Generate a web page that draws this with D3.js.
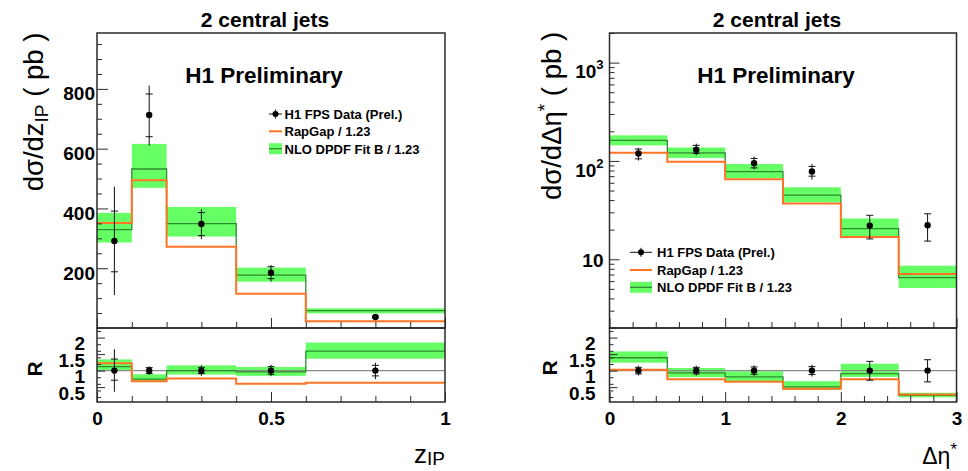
<!DOCTYPE html>
<html>
<head>
<meta charset="utf-8">
<script src="https://cdn.jsdelivr.net/npm/d3@7"></script>
<style>
  body { margin: 0; background: #fff; }
  svg { display: block; font-family: "Liberation Sans", Arial, Helvetica, sans-serif; }
</style>
</head>
<body>
<svg id="chart" width="968" height="471"></svg>
<script>
// ---------------- z_IP distribution ----------------
const zEdges   = [0, 0.1, 0.2, 0.4, 0.6, 1.0];
const zCentres = [0.05, 0.15, 0.3, 0.5, 0.8];
const zData    = [291, 713, 348, 185, 37];
const zStatLo  = [188, 640, 309, 165, 34];
const zStatHi  = [391, 783, 386, 205, 40];
const zTotLo   = [110, 610, 297, 155, 33];
const zTotHi   = [473, 811, 397, 211, 41];
const zRapgap  = [351, 494, 272, 115, 23];
const zNlo     = [329, 532, 349, 177, 58];
const zNloLo   = [286, 469, 306, 155, 49];
const zNloHi   = [385, 616, 405, 202, 66];

// ratio to data, z_IP
const zRData    = [1, 1, 1, 1, 1];
const zRStatLo  = [0.71, 0.91, 0.91, 0.89, 0.84];
const zRStatHi  = [1.35, 1.09, 1.10, 1.12, 1.16];
const zRTotLo   = [0.36, 0.87, 0.84, 0.83, 0.74];
const zRTotHi   = [1.65, 1.13, 1.16, 1.18, 1.24];
const zRRapgap  = [1.22, 0.68, 0.76, 0.60, 0.63];
const zRNlo     = [1.12, 0.74, 1.00, 0.96, 1.59];
const zRNloLo   = [1.00, 0.67, 0.88, 0.84, 1.36];
const zRNloHi   = [1.34, 0.89, 1.16, 1.11, 1.85];

// ---------------- Delta eta* distribution ----------------
const eEdges   = [0, 0.5, 1, 1.5, 2, 2.5, 3];
const eCentres = [0.25, 0.75, 1.25, 1.75, 2.25, 2.75];
const eData    = [119, 130, 95, 78, 22, 22.2];
const eStatLo  = [105, 119, 85, 70, 16.1, 15.3];
const eStatHi  = [132, 144, 106, 88, 28, 29];
const eTotLo   = [101, 114, 82, 64.5, 16.1, 15.3];
const eTotHi   = [136, 150, 111, 93, 28, 29];
const eRapgap  = [121, 98, 65, 37, 16.8, 7.1];
const eNlo     = [162, 121, 78, 45, 20.5, 6.5];
const eNloLo   = [144, 107, 67, 38, 16.6, 5.1];
const eNloHi   = [182, 137, 93, 54, 26, 8.6];

// ratio to data, Delta eta*
const eRData    = [1, 1, 1, 1, 1, 1];
const eRStatLo  = [0.90, 0.90, 0.89, 0.88, 0.71, 0.66];
const eRStatHi  = [1.10, 1.10, 1.11, 1.12, 1.28, 1.33];
const eRTotLo   = [0.85, 0.85, 0.84, 0.82, 0.71, 0.66];
const eRTotHi   = [1.15, 1.15, 1.16, 1.18, 1.28, 1.33];
const eRRapgap  = [1.03, 0.74, 0.66, 0.45, 0.74, 0.28];
const eRNlo     = [1.39, 0.93, 0.81, 0.51, 0.91, 0.25];
const eRNloLo   = [1.24, 0.80, 0.66, 0.42, 0.81, 0.19];
const eRNloHi   = [1.58, 1.08, 0.98, 0.68, 1.21, 0.33];

// axis ticks
const zTicksMajor = [0, 0.5, 1];
const zTicksMinor = [0.1, 0.2, 0.3, 0.4, 0.6, 0.7, 0.8, 0.9];
const eTicksMajor = [0, 1, 2, 3];
const eTicksMinor = [0.2, 0.4, 0.6, 0.8, 1.2, 1.4, 1.6, 1.8, 2.2, 2.4, 2.6, 2.8];
const linTicksMajor = [200, 400, 600, 800];
const linTicksMinor = [50, 100, 150, 250, 300, 350, 450, 500, 550, 650, 700, 750, 850, 900, 950];
const logTicksMajor = [10, 100, 1000];
const logTicksMinor = [2, 3, 4, 5, 6, 7, 8, 9, 20, 30, 40, 50, 60, 70, 80, 90,
                       200, 300, 400, 500, 600, 700, 800, 900, 2000];
const rTicksMajor = [0.5, 1, 1.5, 2];
const rTicksMinor = [0.2, 0.4, 0.6, 0.8, 1.2, 1.4, 1.6, 1.8, 2.2];

const titleText   = '2 central jets';
const stampText   = 'H1 Preliminary';
const legendLabels = ['H1 FPS Data (Prel.)', 'RapGap / 1.23', 'NLO DPDF Fit B / 1.23'];

// ---------------- styling ----------------
const GREEN_BAND = '#66ff66';
const GREEN_LINE = '#2f8a2f';
const ORANGE     = '#ff7424';
const FRAME      = '#2a2a2a';
const TOP = 33, SPLIT = 328, BOTTOM = 402;

const svg = d3.select('#chart');

function stepPath(x, y, edges, vals) {
  const pts = edges.map((e, i) => [e, vals[Math.min(i, vals.length - 1)]]);
  return d3.line().x(d => x(d[0])).y(d => y(d[1])).curve(d3.curveStepAfter)(pts);
}

let clipId = 0;
function clipped(g, x0, y0, w, h) {
  const id = 'clip' + (clipId++);
  svg.append('defs').append('clipPath').attr('id', id)
    .append('rect').attr('x', x0).attr('y', y0).attr('width', w).attr('height', h);
  return g.append('g').attr('clip-path', `url(#${id})`);
}

function drawModels(g, x, y, edges, nlo, lo, hi, rap, refLine) {
  g.append('g').selectAll('rect').data(nlo).join('rect')
    .attr('x', (d, i) => x(edges[i]))
    .attr('width', (d, i) => x(edges[i + 1]) - x(edges[i]))
    .attr('y', (d, i) => y(hi[i]))
    .attr('height', (d, i) => y(lo[i]) - y(hi[i]))
    .attr('fill', GREEN_BAND);
  if (refLine) {
    g.append('line')
      .attr('x1', x(edges[0])).attr('x2', x(edges[edges.length - 1]))
      .attr('y1', y(1)).attr('y2', y(1))
      .attr('stroke', '#8a8a8a').attr('stroke-width', 1.2);
  }
  g.append('path').attr('d', stepPath(x, y, edges, nlo))
    .attr('fill', 'none').attr('stroke', GREEN_LINE).attr('stroke-width', 1.3);
  g.append('path').attr('d', stepPath(x, y, edges, rap))
    .attr('fill', 'none').attr('stroke', ORANGE).attr('stroke-width', 2);
}

function drawData(g, x, y, centres, vals, sLo, sHi, tLo, tHi) {
  const pts = g.append('g').selectAll('g').data(vals).join('g');
  pts.append('line')
    .attr('x1', (d, i) => x(centres[i])).attr('x2', (d, i) => x(centres[i]))
    .attr('y1', (d, i) => y(tLo[i])).attr('y2', (d, i) => y(tHi[i]))
    .attr('stroke', '#111').attr('stroke-width', 1);
  [sLo, sHi].forEach(arr => {
    pts.append('line')
      .attr('x1', (d, i) => x(centres[i]) - 3.5).attr('x2', (d, i) => x(centres[i]) + 3.5)
      .attr('y1', (d, i) => y(arr[i])).attr('y2', (d, i) => y(arr[i]))
      .attr('stroke', '#111').attr('stroke-width', 1);
  });
  pts.append('circle')
    .attr('cx', (d, i) => x(centres[i])).attr('cy', d => y(d))
    .attr('r', 3.2).attr('fill', '#000');
}

function tickAxis(g, axis, values, size, transform) {
  const a = g.append('g').attr('transform', transform)
    .call(axis.tickValues(values).tickSize(size).tickFormat(''));
  a.select('.domain').remove();
  a.selectAll('.tick line').attr('stroke', FRAME).attr('stroke-width', 1);
  return a;
}

function labelAxis(g, axis, values, size, pad, transform, fontSize, fmt) {
  const a = g.append('g').attr('transform', transform)
    .call(axis.tickValues(values).tickSize(size).tickPadding(pad).tickFormat(fmt));
  a.select('.domain').remove();
  a.selectAll('.tick line').attr('stroke', FRAME).attr('stroke-width', 1);
  a.selectAll('.tick text')
    .attr('font-family', '"Liberation Sans", Arial, sans-serif')
    .attr('font-weight', 'bold').attr('font-size', fontSize).attr('fill', '#000');
  return a;
}

function drawLegend(g, x0, x1, tx, rows) {
  const xm = (x0 + x1) / 2;
  // data marker
  g.append('line').attr('x1', x0).attr('x2', x1).attr('y1', rows[0]).attr('y2', rows[0])
    .attr('stroke', '#111').attr('stroke-width', 1);
  g.append('line').attr('x1', xm).attr('x2', xm).attr('y1', rows[0] - 4.5).attr('y2', rows[0] + 4.5)
    .attr('stroke', '#111').attr('stroke-width', 1);
  g.append('circle').attr('cx', xm).attr('cy', rows[0]).attr('r', 3).attr('fill', '#000');
  // RapGap
  g.append('line').attr('x1', x0).attr('x2', x1).attr('y1', rows[1]).attr('y2', rows[1])
    .attr('stroke', ORANGE).attr('stroke-width', 2);
  // NLO band
  g.append('rect').attr('x', x0).attr('y', rows[2] - 5.5).attr('width', x1 - x0).attr('height', 11)
    .attr('fill', GREEN_BAND);
  g.append('line').attr('x1', x0).attr('x2', x1).attr('y1', rows[2]).attr('y2', rows[2])
    .attr('stroke', GREEN_LINE).attr('stroke-width', 1.3);
  g.selectAll('text.leg').data(legendLabels).join('text')
    .attr('class', 'leg')
    .attr('x', tx).attr('y', (d, i) => rows[i] + 4.8)
    .attr('font-size', 13).attr('font-weight', 'bold').attr('fill', '#000')
    .text(d => d);
}

function frame(g, x0, x1) {
  g.append('rect').attr('x', x0).attr('y', TOP).attr('width', x1 - x0).attr('height', SPLIT - TOP)
    .attr('fill', 'none').attr('stroke', FRAME).attr('stroke-width', 1.5);
  g.append('rect').attr('x', x0).attr('y', SPLIT).attr('width', x1 - x0).attr('height', BOTTOM - SPLIT)
    .attr('fill', 'none').attr('stroke', FRAME).attr('stroke-width', 1.5);
}

// ================= left: z_IP =================
{
  const x0 = 97, x1 = 445;
  const g = svg.append('g');
  const x = d3.scaleLinear().domain([0, 1]).range([x0, x1]);
  const y = d3.scaleLinear().domain([0, 987]).range([SPLIT, TOP]);
  const yr = d3.scaleLinear().domain([0.05, 2.29]).range([BOTTOM, SPLIT]);

  const top = clipped(g, x0, TOP, x1 - x0, SPLIT - TOP);
  drawModels(top, x, y, zEdges, zNlo, zNloLo, zNloHi, zRapgap, false);
  drawData(top, x, y, zCentres, zData, zStatLo, zStatHi, zTotLo, zTotHi);

  const bot = clipped(g, x0, SPLIT, x1 - x0, BOTTOM - SPLIT);
  drawModels(bot, x, yr, zEdges, zRNlo, zRNloLo, zRNloHi, zRRapgap, true);
  drawData(bot, x, yr, zCentres, zRData, zRStatLo, zRStatHi, zRTotLo, zRTotHi);

  // axes of the upper pad
  tickAxis(g, d3.axisLeft(y), linTicksMinor, -5, `translate(${x0},0)`);
  const ly = labelAxis(g, d3.axisLeft(y), linTicksMajor, -11, 2, `translate(${x0},0)`, 19, d3.format('d'));
  ly.selectAll('.tick text').attr('y', 5);
  tickAxis(g, d3.axisBottom(x), zTicksMinor, -6, `translate(0,${SPLIT})`);
  tickAxis(g, d3.axisBottom(x), zTicksMajor, -10, `translate(0,${SPLIT})`);

  // axes of the ratio pad
  tickAxis(g, d3.axisLeft(yr), rTicksMinor, -4, `translate(${x0},0)`);
  const lr = labelAxis(g, d3.axisLeft(yr), rTicksMajor, -8, 12, `translate(${x0},0)`, 19, d3.format('~g'));
  lr.selectAll('.tick text').attr('y', 6);
  tickAxis(g, d3.axisBottom(x), zTicksMinor, -6, `translate(0,${BOTTOM})`);
  labelAxis(g, d3.axisBottom(x), zTicksMajor, -10, 10, `translate(0,${BOTTOM})`, 19, d3.format('~g'));

  frame(g, x0, x1);

  g.append('text').attr('x', 265).attr('y', 27).attr('text-anchor', 'middle')
    .attr('font-size', 21).attr('font-weight', 'bold').text(titleText);
  g.append('text').attr('x', 264).attr('y', 82.5).attr('text-anchor', 'middle')
    .attr('font-size', 22.5).attr('font-weight', 'bold').text(stampText);

  const yt = g.append('text').attr('transform', 'translate(43,112) rotate(-90)')
    .attr('text-anchor', 'middle').attr('font-size', 27.5);
  yt.append('tspan').text('dσ/dz');
  yt.append('tspan').attr('font-size', 19).attr('dy', 5).text('IP');
  yt.append('tspan').attr('dy', -5).text(' ( pb )');

  g.append('text').attr('transform', 'translate(42,369) rotate(-90)')
    .attr('text-anchor', 'middle').attr('font-size', 21).attr('font-weight', 'bold').text('R');

  const xt = g.append('text').attr('x', 445).attr('y', 463).attr('text-anchor', 'end').attr('font-size', 26);
  xt.append('tspan').text('z');
  xt.append('tspan').attr('font-size', 19).attr('dy', 2).text('IP');

  drawLegend(g, 269, 282, 284.5, [114, 131.3, 148.7]);
}

// ================= right: Delta eta* =================
{
  const x0 = 609.5, x1 = 956.5;
  const g = svg.append('g');
  const x = d3.scaleLinear().domain([0, 3]).range([x0, x1]);
  const y = d3.scaleLog().domain([2, 2000]).range([SPLIT, TOP]);
  const yr = d3.scaleLinear().domain([0.05, 2.29]).range([BOTTOM, SPLIT]);

  const top = clipped(g, x0, TOP, x1 - x0, SPLIT - TOP);
  drawModels(top, x, y, eEdges, eNlo, eNloLo, eNloHi, eRapgap, false);
  drawData(top, x, y, eCentres, eData, eStatLo, eStatHi, eTotLo, eTotHi);

  const bot = clipped(g, x0, SPLIT, x1 - x0, BOTTOM - SPLIT);
  drawModels(bot, x, yr, eEdges, eRNlo, eRNloLo, eRNloHi, eRRapgap, true);
  drawData(bot, x, yr, eCentres, eRData, eRStatLo, eRStatHi, eRTotLo, eRTotHi);

  // log axis of the upper pad
  tickAxis(g, d3.axisLeft(y), logTicksMinor, -5, `translate(${x0},0)`);
  const ly = labelAxis(g, d3.axisLeft(y), logTicksMajor, -10, 6, `translate(${x0},0)`, 19, () => '');
  ly.selectAll('.tick text').each(function (d) {
    const t = d3.select(this);
    const p = Math.round(Math.log10(d));
    if (p === 1) {
      t.attr('y', 1).append('tspan').text('10');
    } else {
      t.attr('y', 9);
      t.append('tspan').text('10');
      t.append('tspan').attr('font-size', 13).attr('dy', -9).text(String(p));
    }
  });
  tickAxis(g, d3.axisBottom(x), eTicksMinor, -6, `translate(0,${SPLIT})`);
  tickAxis(g, d3.axisBottom(x), eTicksMajor, -10, `translate(0,${SPLIT})`);

  tickAxis(g, d3.axisLeft(yr), rTicksMinor, -4, `translate(${x0},0)`);
  const lr = labelAxis(g, d3.axisLeft(yr), rTicksMajor, -8, 14, `translate(${x0},0)`, 19, d3.format('~g'));
  lr.selectAll('.tick text').attr('y', 6);
  tickAxis(g, d3.axisBottom(x), eTicksMinor, -6, `translate(0,${BOTTOM})`);
  labelAxis(g, d3.axisBottom(x), eTicksMajor, -10, 10, `translate(0,${BOTTOM})`, 19, d3.format('d'));

  frame(g, x0, x1);

  g.append('text').attr('x', 777).attr('y', 27).attr('text-anchor', 'middle')
    .attr('font-size', 21).attr('font-weight', 'bold').text(titleText);
  g.append('text').attr('x', 776).attr('y', 82.5).attr('text-anchor', 'middle')
    .attr('font-size', 22.5).attr('font-weight', 'bold').text(stampText);

  const yt = g.append('text').attr('transform', 'translate(561,116) rotate(-90)')
    .attr('text-anchor', 'middle').attr('font-size', 27.5);
  yt.append('tspan').text('dσ/dΔη');
  yt.append('tspan').attr('font-size', 19).attr('dy', -10).text('*');
  yt.append('tspan').attr('dy', 10).text(' ( pb )');

  g.append('text').attr('transform', 'translate(557,368) rotate(-90)')
    .attr('text-anchor', 'middle').attr('font-size', 21).attr('font-weight', 'bold').text('R');

  const xt = g.append('text').attr('x', 957).attr('y', 464).attr('text-anchor', 'end').attr('font-size', 23);
  xt.append('tspan').text('Δη');
  xt.append('tspan').attr('font-size', 17).attr('dy', -9).text('*');

  drawLegend(g, 630, 652, 657, [252.3, 270, 287.3]);
}
</script>
</body>
</html>
